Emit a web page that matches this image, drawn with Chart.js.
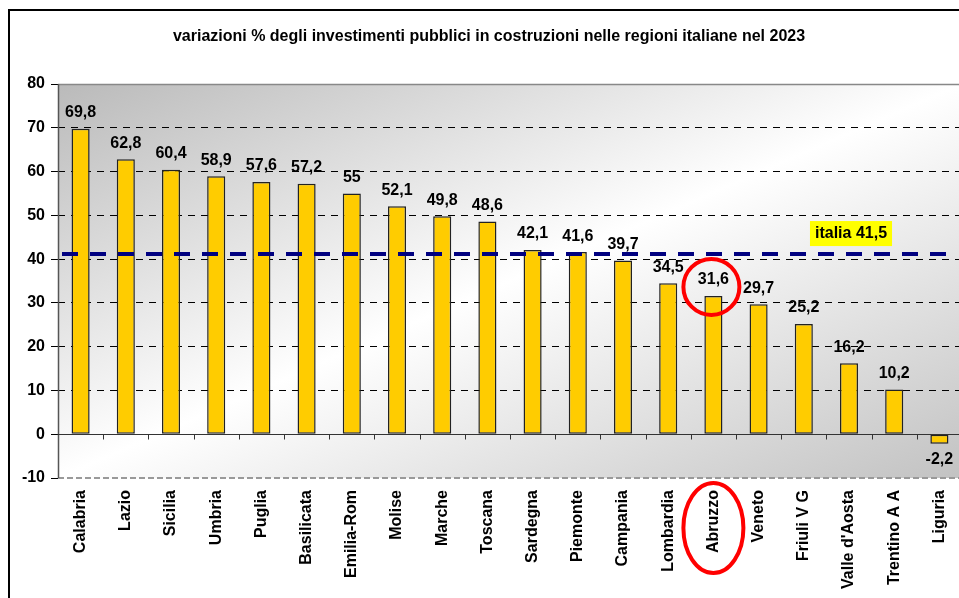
<!DOCTYPE html>
<html>
<head>
<meta charset="utf-8">
<script src="https://cdn.jsdelivr.net/npm/chart.js@4.4.1/dist/chart.umd.min.js"></script>
<style>
html,body{margin:0;padding:0;background:#fff;overflow:hidden;width:959px;height:598px;}
#wrap{position:absolute;left:0;top:0;width:978px;height:598px;}
#frame{position:absolute;left:8px;top:9px;width:1000px;height:700px;border:2px solid #000;box-sizing:border-box;pointer-events:none;}
</style>
</head>
<body>
<div id="wrap"><canvas id="c" width="978" height="598"></canvas></div>
<div id="frame"></div>
<script>
const title = 'variazioni % degli investimenti pubblici in costruzioni nelle regioni italiane nel 2023';
const categories = ['Calabria','Lazio','Sicilia','Umbria','Puglia','Basilicata','Emilia-Rom','Molise','Marche','Toscana','Sardegna','Piemonte','Campania','Lombardia','Abruzzo','Veneto','Friuli V G',"Valle d'Aosta",'Trentino A A','Liguria'];
const values = [69.8,62.8,60.4,58.9,57.6,57.2,55,52.1,49.8,48.6,42.1,41.6,39.7,34.5,31.6,29.7,25.2,16.2,10.2,-2.2];
const italiaValue = 41.5;
const italiaLabel = 'italia 41,5';
const highlightIndex = 14;
const yTicks = [-10,0,10,20,30,40,50,60,70,80];

const fmt = v => String(v).replace('.', ',');
const FONT = 'Liberation Sans, Arial, sans-serif';

const decor = {
  id: 'decor',
  beforeDraw(chart) {
    const {ctx, chartArea: a} = chart;
    const w = a.right - a.left, h = a.bottom - a.top;
    const cx = (a.left + a.right) / 2, cy = (a.top + a.bottom) / 2;
    const k = (w * h) / (w * w + h * h);
    const g = ctx.createLinearGradient(cx - k * h, cy - k * w, cx + k * h, cy + k * w);
    g.addColorStop(0, '#bababa');
    g.addColorStop(0.5, '#ffffff');
    g.addColorStop(1, '#c2c2c2');
    ctx.save();
    ctx.fillStyle = g;
    ctx.fillRect(a.left, a.top, w, h);
    ctx.restore();
  },
  afterDraw(chart) {
    const {ctx, chartArea: a, scales: {x, y}} = chart;
    ctx.save();
    // plot borders
    ctx.strokeStyle = '#888';
    ctx.lineWidth = 1.5;
    ctx.beginPath();
    ctx.moveTo(a.left, y.getPixelForValue(80) + 0.5);
    ctx.lineTo(a.right, y.getPixelForValue(80) + 0.5);
    ctx.stroke();
    ctx.setLineDash([6, 3]);
    ctx.strokeStyle = '#999';
    ctx.lineWidth = 2;
    ctx.beginPath();
    ctx.moveTo(a.left, y.getPixelForValue(-10));
    ctx.lineTo(a.right, y.getPixelForValue(-10));
    ctx.stroke();
    ctx.setLineDash([]);
    ctx.strokeStyle = '#555';
    ctx.lineWidth = 1.5;
    ctx.beginPath();
    ctx.moveTo(a.left + 0.5, a.top);
    ctx.lineTo(a.left + 0.5, a.bottom);
    ctx.stroke();
    // zero line + ticks
    const y0 = Math.round(y.getPixelForValue(0)) + 0.5;
    ctx.strokeStyle = '#333';
    ctx.lineWidth = 1;
    ctx.beginPath();
    ctx.moveTo(a.left, y0);
    ctx.lineTo(a.right, y0);
    const step = x.getPixelForValue(1) - x.getPixelForValue(0);
    for (let i = 0; i < categories.length; i++) {
      const tx = Math.round(x.getPixelForValue(i) + step / 2) + 0.5;
      ctx.moveTo(tx, y0);
      ctx.lineTo(tx, y0 + 5);
    }
    ctx.stroke();

    // italia mean line
    const ym = y.getPixelForValue(italiaValue) + 1.5;
    ctx.strokeStyle = '#000080';
    ctx.lineWidth = 4;
    ctx.setLineDash([16, 12]);
    ctx.beginPath();
    ctx.moveTo(a.left + 4, ym);
    ctx.lineTo(a.right - 8, ym);
    ctx.stroke();
    ctx.setLineDash([]);

    // value labels
    ctx.font = 'bold 16px ' + FONT;
    ctx.fillStyle = '#000';
    ctx.textAlign = 'center';
    ctx.textBaseline = 'middle';
    const meta = chart.getDatasetMeta(0);
    meta.data.forEach((bar, i) => {
      const v = values[i];
      const ty = v >= 0 ? bar.y - 16 : bar.y + 16;
      ctx.fillText(fmt(v), bar.x, ty);
    });

    // italia label
    ctx.font = 'bold 16px ' + FONT;
    const tw = ctx.measureText(italiaLabel).width;
    const lx = a.right - 111, ly = ym - 21;
    ctx.fillStyle = '#ffff00';
    ctx.fillRect(lx - tw / 2 - 5, ly - 12, tw + 10, 25);
    ctx.fillStyle = '#000';
    ctx.fillText(italiaLabel, lx, ly + 1);

    // highlight circles
    const hb = meta.data[highlightIndex];
    ctx.strokeStyle = '#ff0000';
    ctx.lineWidth = 4;
    ctx.beginPath();
    ctx.arc(hb.x - 2, hb.y - 9, 28, 0, Math.PI * 2);
    ctx.stroke();
    ctx.beginPath();
    ctx.ellipse(hb.x, a.bottom + 50, 30, 45, 0, 0, Math.PI * 2);
    ctx.stroke();

    // title
    ctx.font = 'bold 16px ' + FONT;
    ctx.fillStyle = '#000';
    ctx.textAlign = 'center';
    ctx.fillText(title, 489, 37);
    ctx.restore();
  }
};

new Chart(document.getElementById('c'), {
  type: 'bar',
  data: {
    labels: categories,
    datasets: [{
      data: values,
      backgroundColor: '#ffcc00',
      borderColor: '#222',
      borderWidth: 1.5,
      borderSkipped: false,
      barPercentage: 0.4,
      categoryPercentage: 1
    }]
  },
  options: {
    responsive: false,
    animation: false,
    devicePixelRatio: 1,
    layout: {padding: {top: 84, right: 16, left: 0, bottom: 0}},
    plugins: {legend: {display: false}, tooltip: {enabled: false}, title: {display: false}},
    scales: {
      x: {
        grid: {display: false, drawTicks: false},
        border: {display: false},
        ticks: {
          autoSkip: false, maxRotation: 90, minRotation: 90, padding: 12,
          color: '#000', font: {family: FONT, size: 16, weight: 'bold'}
        },
        afterFit(s) { s.height = 120; }
      },
      y: {
        min: -10, max: 80,
        afterBuildTicks(s) { s.ticks = yTicks.map(v => ({value: v})); },
        afterFit(s) { s.width = 58; },
        grid: {
          color: ctx => (ctx.tick && (ctx.tick.value === 0 || ctx.tick.value === -10 || ctx.tick.value === 80)) ? 'rgba(0,0,0,0)' : '#000',
          lineWidth: 1,
          tickColor: '#000',
          tickLength: 7,
          tickBorderDash: []
        },
        border: {display: false, dash: [7, 6]},
        ticks: {padding: 6, color: '#000', font: {family: FONT, size: 16, weight: 'bold'}}
      }
    }
  },
  plugins: [decor]
});
</script>
</body>
</html>
